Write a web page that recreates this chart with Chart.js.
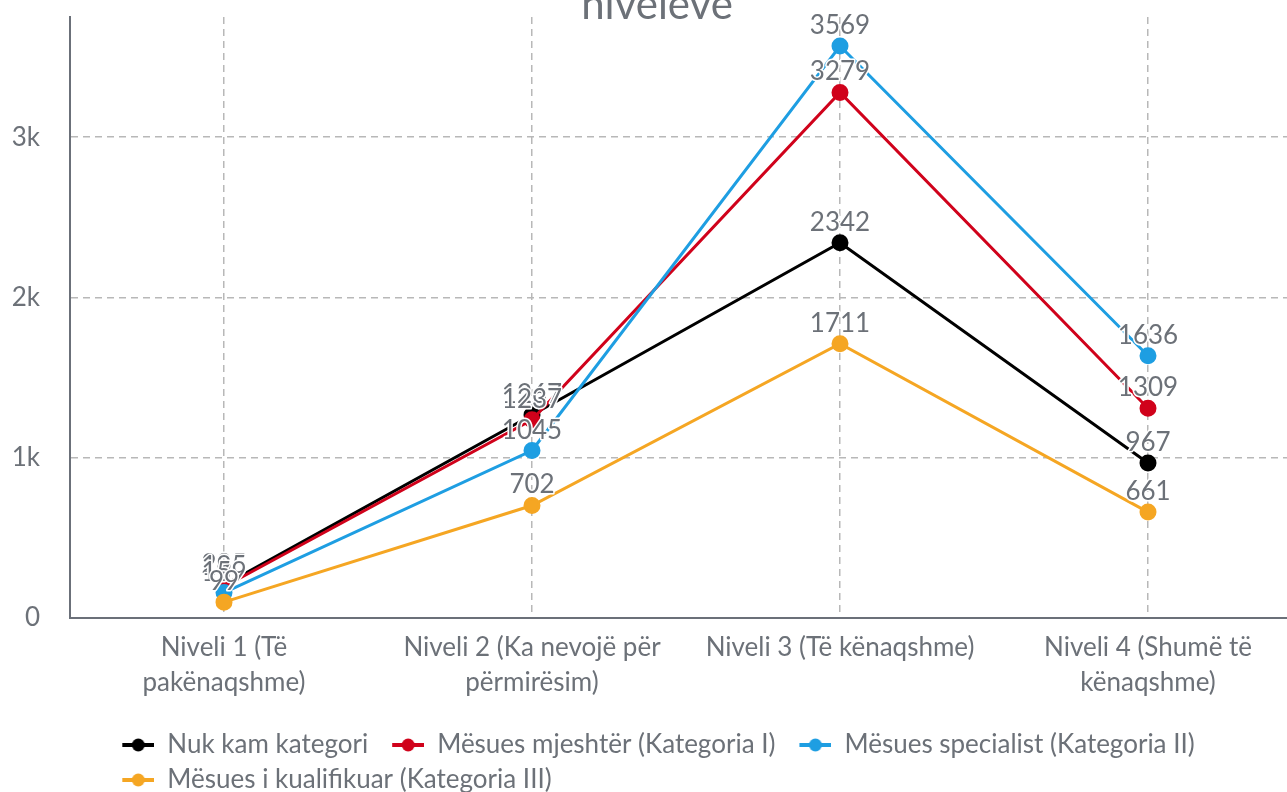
<!DOCTYPE html>
<html>
<head>
<meta charset="utf-8">
<script src="https://cdn.jsdelivr.net/npm/chart.js@4.4.0/dist/chart.umd.min.js"></script>
<style>
    html, body { margin: 0; padding: 0; overflow: hidden; background: #fff; }
    #wrap { width: 1302px; height: 803px; }
</style>
</head>
<body>
<div id="wrap"><canvas id="myChart" width="1302" height="803"></canvas></div>
<script>
// data
const levels = [
    ['Niveli 1 (Të', 'pakënaqshme)'],
    ['Niveli 2 (Ka nevojë për', 'përmirësim)'],
    'Niveli 3 (Të kënaqshme)',
    ['Niveli 4 (Shumë të', 'kënaqshme)']
];
const seriesNames = [
    'Nuk kam kategori',
    'Mësues mjeshtër (Kategoria I)',
    'Mësues specialist (Kategoria II)',
    'Mësues i kualifikuar (Kategoria III)'
];
const noCategory = [205, 1267, 2342, 967];
const masterTeacher = [195, 1237, 3279, 1309];
const specialistTeacher = [159, 1045, 3569, 1636];
const qualifiedTeacher = [99, 702, 1711, 661];
const yTickValues = [0, 1000, 2000, 3000];
const yMax = 3750;
const titleText = 'nivelevë';

const colors = ['#000000', '#d0021b', '#1e9ee2', '#f5a623'];
const textGray = '#6c7178';
const font = 'Lato';

const ctx = document.getElementById('myChart').getContext('2d');

// legend swatch: line with a dot in the middle, blank strip on the left as item spacing
function makeSwatch(color) {
    const c = document.createElement('canvas');
    c.width = 47;
    c.height = 16;
    const g = c.getContext('2d');
    g.strokeStyle = color;
    g.lineWidth = 4;
    g.beginPath();
    g.moveTo(15, 8);
    g.lineTo(47, 8);
    g.stroke();
    g.fillStyle = color;
    g.beginPath();
    g.arc(31, 8, 6.5, 0, Math.PI * 2);
    g.fill();
    return c;
}

const seriesData = [noCategory, masterTeacher, specialistTeacher, qualifiedTeacher];
const datasets = seriesData.map((d, i) => ({
    label: seriesNames[i],
    data: d,
    borderColor: colors[i],
    backgroundColor: colors[i],
    pointBackgroundColor: colors[i],
    pointBorderColor: colors[i],
    borderWidth: 3,
    pointRadius: 7,
    pointHoverRadius: 7,
    tension: 0,
    order: 4 - i,
    swatch: makeSwatch(colors[i]),
}));

const valueLabels = {
    id: 'valueLabels',
    afterDatasetsDraw(chart) {
        const c = chart.ctx;
        c.save();
        c.font = '26px ' + font;
        c.textAlign = 'center';
        c.textBaseline = 'alphabetic';
        c.lineJoin = 'round';
        chart.data.datasets.forEach((ds, i) => {
            const meta = chart.getDatasetMeta(i);
            meta.data.forEach((pt, j) => {
                c.lineWidth = 3;
                c.strokeStyle = '#ffffff';
                c.strokeText(String(ds.data[j]), pt.x, pt.y - 12);
                c.fillStyle = textGray;
                c.fillText(String(ds.data[j]), pt.x, pt.y - 12);
            });
        });
        c.restore();
    }
};

const cutTitle = {
    id: 'cutTitle',
    afterDraw(chart) {
        const c = chart.ctx;
        c.save();
        c.font = '42px ' + font;
        c.fillStyle = textGray;
        c.textAlign = 'center';
        c.textBaseline = 'alphabetic';
        c.fillText(titleText, 657, 19);
        c.restore();
    }
};

// keep the second legend row starting under the first one
const legendRows = {
    id: 'legendRows',
    afterLayout(chart) {
        const lg = chart.legend;
        if (lg && lg.lineWidths) {
            const m = Math.max(...lg.lineWidths);
            lg.lineWidths = lg.lineWidths.map(() => m);
        }
    }
};

const config = {
    type: 'line',
    data: {
        labels: levels,
        datasets: datasets
    },
    options: {
        responsive: false,
        devicePixelRatio: 1,
        animation: false,
        layout: {
            autoPadding: false,
            padding: { top: 17, left: 0, right: 0, bottom: 0 }
        },
        plugins: {
            title: { display: false },
            tooltip: { enabled: false },
            legend: {
                position: 'bottom',
                labels: {
                    usePointStyle: true,
                    pointStyleWidth: 47,
                    padding: 9,
                    color: textGray,
                    font: { family: font, size: 26 },
                    generateLabels(chart) {
                        return chart.data.datasets.map((ds, i) => ({
                            text: ds.label,
                            fillStyle: ds.backgroundColor,
                            strokeStyle: ds.borderColor,
                            pointStyle: ds.swatch,
                            fontColor: textGray,
                            lineWidth: 0,
                            hidden: false,
                            datasetIndex: i
                        }));
                    }
                }
            }
        },
        scales: {
            x: {
                offset: true,
                grid: {
                    offset: false,
                    drawTicks: false,
                    color: '#b8b8b8',
                    lineWidth: 1.5
                },
                border: { display: true, color: '#6b7079', width: 2, dash: [7, 5] },
                ticks: {
                    color: textGray,
                    padding: 12,
                    maxRotation: 0,
                    autoSkip: false,
                    font: { family: font, size: 26, lineHeight: 1.35 }
                },
                afterFit(scale) {
                    scale.height = 105;
                    scale.paddingLeft = 0;
                    scale.paddingRight = 0;
                }
            },
            y: {
                min: 0,
                max: yMax,
                afterBuildTicks(axis) {
                    axis.ticks = yTickValues.map(v => ({ value: v }));
                },
                grid: {
                    drawTicks: false,
                    color: '#b8b8b8',
                    lineWidth: 1.5
                },
                border: { display: true, color: '#6b7079', width: 2, dash: [7, 5] },
                ticks: {
                    color: textGray,
                    padding: 30,
                    font: { family: font, size: 26 },
                    callback: v => v === 0 ? '0' : (v / 1000) + 'k'
                },
                afterFit(scale) {
                    scale.width = 70;
                    scale.paddingTop = 0;
                    scale.paddingBottom = 0;
                }
            }
        }
    },
    plugins: [valueLabels, cutTitle, legendRows]
};

const lineChart = new Chart(ctx, config);
</script>
</body>
</html>
